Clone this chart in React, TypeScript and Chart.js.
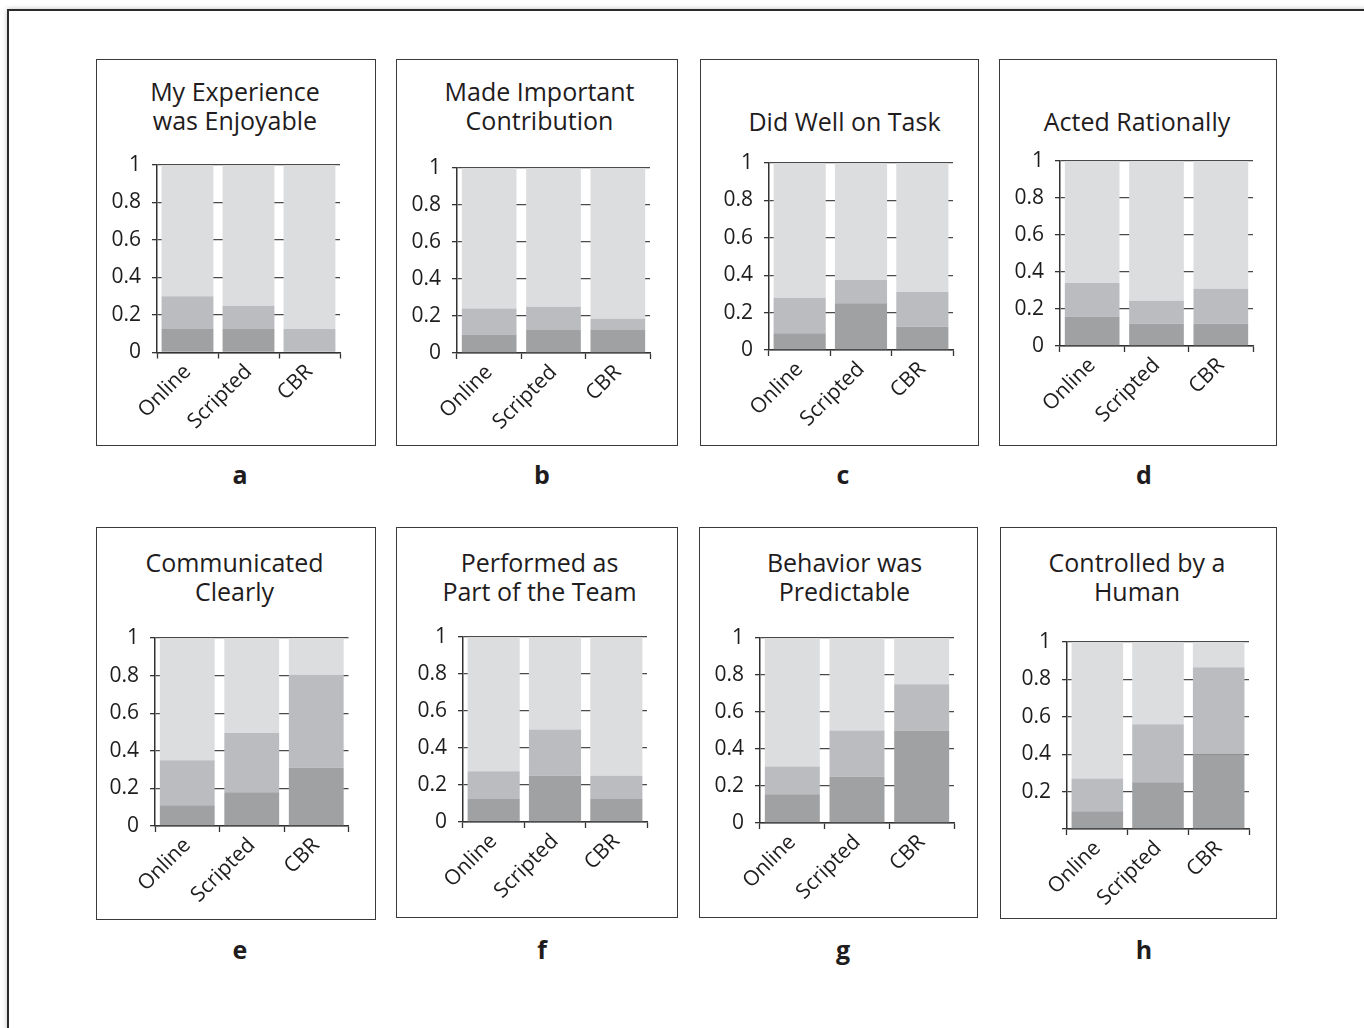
import React, { useEffect, useRef } from "react";
import { Chart, registerables } from "chart.js";

Chart.register(...registerables);

const categories = ["Online", "Scripted", "CBR"];
const yTickValues = [0, 0.2, 0.4, 0.6, 0.8, 1];

// segment heights per panel: low (dark), mid, high (light)
const aLow = [0.125, 0.125, 0];
const aMid = [0.175, 0.125, 0.125];
const aHigh = [0.7, 0.75, 0.875];

const bLow = [0.1, 0.125, 0.125];
const bMid = [0.14, 0.125, 0.06];
const bHigh = [0.76, 0.75, 0.815];

const cLow = [0.09, 0.25, 0.125];
const cMid = [0.19, 0.125, 0.185];
const cHigh = [0.72, 0.625, 0.69];

const dLow = [0.16, 0.12, 0.12];
const dMid = [0.18, 0.125, 0.19];
const dHigh = [0.66, 0.755, 0.69];

const eLow = [0.11, 0.18, 0.31];
const eMid = [0.24, 0.315, 0.495];
const eHigh = [0.65, 0.505, 0.195];

const fLow = [0.125, 0.25, 0.125];
const fMid = [0.15, 0.25, 0.125];
const fHigh = [0.725, 0.5, 0.75];

const gLow = [0.155, 0.25, 0.5];
const gMid = [0.15, 0.25, 0.25];
const gHigh = [0.695, 0.5, 0.25];

const hLow = [0.095, 0.25, 0.4];
const hMid = [0.175, 0.31, 0.465];
const hHigh = [0.73, 0.44, 0.135];

const FONT = "'Open Sans', 'Noto Sans', sans-serif";
const TEXT = "#1f1c1d";
const COL_LOW = "#a0a1a3";
const COL_MID = "#bbbcbf";
const COL_HIGH = "#dcdddf";

const YW = 60;
const XH = 80;
const PT = 15;
const PR = 6;

type PanelSpec = {
  letter: string;
  title: string[];
  low: number[];
  mid: number[];
  high: number[];
  box: [number, number, number, number]; // l t r b
  plot: [number, number, number, number]; // x0 y1 x1 y0
  titleX: number;
  titleBase: number;
  letterX: number;
  letterY: number;
  hideZero?: boolean;
};

const panels: PanelSpec[] = [
  { letter: "a", title: ["My Experience", "was Enjoyable"], low: aLow, mid: aMid, high: aHigh,
    box: [96, 59, 376, 446], plot: [157, 164.5, 340, 352], titleX: 235, titleBase: 101.5, letterX: 240, letterY: 477 },
  { letter: "b", title: ["Made Important", "Contribution"], low: bLow, mid: bMid, high: bHigh,
    box: [396, 59, 678, 446], plot: [457, 168, 650, 353], titleX: 539.5, titleBase: 101.5, letterX: 542, letterY: 477 },
  { letter: "c", title: ["Did Well on Task"], low: cLow, mid: cMid, high: cHigh,
    box: [700, 59, 979, 446], plot: [769, 163, 953, 350], titleX: 844.5, titleBase: 131, letterX: 843, letterY: 477 },
  { letter: "d", title: ["Acted Rationally"], low: dLow, mid: dMid, high: dHigh,
    box: [999, 59, 1277, 446], plot: [1060, 161, 1253, 346], titleX: 1137, titleBase: 131, letterX: 1144, letterY: 477 },
  { letter: "e", title: ["Communicated", "Clearly"], low: eLow, mid: eMid, high: eHigh,
    box: [96, 527, 376, 920], plot: [154.5, 638, 348, 826], titleX: 234.5, titleBase: 572.5, letterX: 240, letterY: 952 },
  { letter: "f", title: ["Performed as", "Part of the Team"], low: fLow, mid: fMid, high: fHigh,
    box: [396, 527, 678, 918], plot: [463, 637, 647, 822], titleX: 539.5, titleBase: 572.5, letterX: 542, letterY: 952 },
  { letter: "g", title: ["Behavior was", "Predictable"], low: gLow, mid: gMid, high: gHigh,
    box: [699, 527, 978, 918], plot: [760, 638, 954, 823], titleX: 844.5, titleBase: 572.5, letterX: 843, letterY: 952 },
  { letter: "h", title: ["Controlled by a", "Human"], low: hLow, mid: hMid, high: hHigh,
    box: [1000, 527, 1277, 919], plot: [1067, 642, 1249, 829], titleX: 1137, titleBase: 572.5, letterX: 1144, letterY: 952, hideZero: true },
];

function PanelChart({ p }: { p: PanelSpec }) {
  const ref = useRef<HTMLCanvasElement | null>(null);
  useEffect(() => {
    if (!ref.current) return;
    const fitPad = (s: any) => {
      s.paddingLeft = 0;
      s.paddingRight = 0;
      s.paddingTop = 0;
      s.paddingBottom = 0;
    };
    const chart = new Chart(ref.current, {
      type: "bar",
      data: {
        labels: categories,
        datasets: [
          { data: p.low, backgroundColor: COL_LOW, borderWidth: 0 },
          { data: p.mid, backgroundColor: COL_MID, borderWidth: 0 },
          { data: p.high, backgroundColor: COL_HIGH, borderWidth: 0 },
        ],
      },
      options: {
        animation: false,
        responsive: true,
        maintainAspectRatio: false,
        layout: { padding: { top: PT, right: PR, left: 0, bottom: 0 } },
        datasets: { bar: { barPercentage: 0.85, categoryPercentage: 1 } },
        plugins: { legend: { display: false }, tooltip: { enabled: false }, title: { display: false } },
        scales: {
          x: {
            stacked: true,
            offset: true,
            grid: { display: true, drawOnChartArea: false, drawTicks: true, tickLength: 6, tickColor: "#333", tickWidth: 1.3, offset: true },
            border: { display: true, color: "#333", width: 1.5 },
            ticks: { color: TEXT, font: { family: FONT, size: 21 }, minRotation: 45, maxRotation: 45, padding: 1, autoSkip: false },
            afterFit: (s: any) => { s.height = XH; fitPad(s); },
          },
          y: {
            stacked: true,
            min: 0,
            max: 1,
            afterBuildTicks: (s: any) => { s.ticks = yTickValues.map((v) => ({ value: v })); },
            ticks: {
              color: TEXT,
              font: { family: FONT, size: 21 },
              padding: 11,
              callback: (v: any) => (p.hideZero && Number(v) === 0 ? "" : String(Number(Number(v).toFixed(1)))),
            },
            grid: { color: "#4a4a4a", lineWidth: 1.3, drawTicks: true, tickLength: 5, tickColor: "#333", tickWidth: 1.3 },
            border: { display: true, color: "#333", width: 1.5 },
            afterFit: (s: any) => { s.width = YW; fitPad(s); },
          },
        },
      } as any,
    });
    return () => chart.destroy();
  }, [p]);

  const [x0, y1, x1, y0] = p.plot;
  const left = x0 - YW;
  const top = y1 - PT;
  const width = YW + (x1 - x0) + PR;
  const height = PT + (y0 - y1) + XH;
  return (
    <div style={{ position: "absolute", left, top, width, height }}>
      <canvas ref={ref} />
    </div>
  );
}

function Panel({ p }: { p: PanelSpec }) {
  const [l, t, r, b] = p.box;
  const lh = 28.5;
  const titleTop = p.titleBase - 24.2;
  return (
    <>
      <div
        style={{
          position: "absolute",
          left: l,
          top: t,
          width: r - l,
          height: b - t,
          border: "1.5px solid #3a3a3a",
          boxSizing: "border-box",
        }}
      />
      <div
        style={{
          position: "absolute",
          left: p.titleX - 150,
          top: titleTop,
          width: 300,
          textAlign: "center",
          fontFamily: FONT,
          fontSize: 25,
          lineHeight: lh + "px",
          color: TEXT,
          whiteSpace: "nowrap",
        }}
      >
        {p.title.map((line, i) => (
          <div key={i}>{line}</div>
        ))}
      </div>
      <PanelChart p={p} />
      <div
        style={{
          position: "absolute",
          left: p.letterX - 20,
          top: p.letterY + 7 - 24.7,
          width: 40,
          textAlign: "center",
          fontFamily: FONT,
          fontWeight: 700,
          fontSize: 25,
          lineHeight: "30px",
          color: TEXT,
        }}
      >
        {p.letter}
      </div>
    </>
  );
}

export default function App() {
  return (
    <div style={{ position: "absolute", left: 0, top: 0, width: 1364, height: 1028, overflow: "hidden", background: "#fff" }}>
      <div
        style={{
          position: "absolute",
          left: 7,
          top: 8.5,
          width: 1420,
          height: 1100,
          border: "2px solid #2b2b2b",
          boxShadow: "0 0 5px rgba(0,0,0,0.25)",
        }}
      />
      {panels.map((p) => (
        <Panel key={p.letter} p={p} />
      ))}
    </div>
  );
}
